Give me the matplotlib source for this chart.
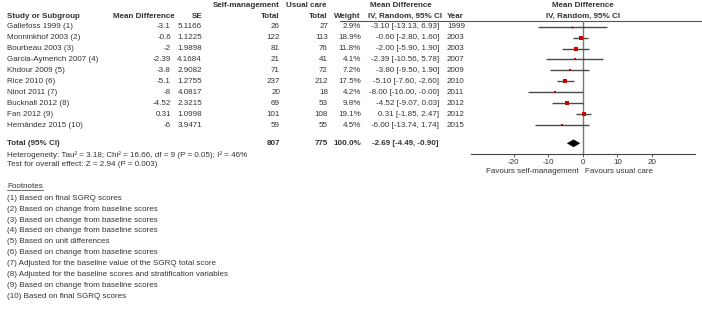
"""Forest plot: self-management vs usual care (SGRQ total score)."""

import matplotlib.pyplot as plt
import numpy as np
from matplotlib.patches import Polygon

plt.rcParams["font.family"] = ["Liberation Sans", "DejaVu Sans"]

# ── Data ──────────────────────────────────────────────────────────────────────
studies = [
    "Gallefoss 1999 (1)", "Monninkhof 2003 (2)", "Bourbeau 2003 (3)",
    "Garcia-Aymerich 2007 (4)", "Khdour 2009 (5)", "Rice 2010 (6)",
    "Ninot 2011 (7)", "Bucknall 2012 (8)", "Fan 2012 (9)", "Hernández 2015 (10)",
]
mean_diff = [-3.1, -0.6, -2, -2.39, -3.8, -5.1, -8, -4.52, 0.31, -6]
se = [5.1166, 1.1225, 1.9898, 4.1684, 2.9082, 1.2755, 4.0817, 2.3215, 1.0998, 3.9471]
n_self = [26, 122, 81, 21, 71, 237, 20, 69, 101, 59]
n_usual = [27, 113, 76, 41, 72, 212, 18, 53, 108, 55]
weight = [2.9, 18.9, 11.8, 4.1, 7.2, 17.5, 4.2, 9.8, 19.1, 4.5]
ci_low = [-13.13, -2.80, -5.90, -10.56, -9.50, -7.60, -16.00, -9.07, -1.85, -13.74]
ci_high = [6.93, 1.60, 1.90, 5.78, 1.90, -2.60, -0.00, 0.03, 2.47, 1.74]
years = [1999, 2003, 2003, 2007, 2009, 2010, 2011, 2012, 2012, 2015]

total_self, total_usual, total_weight = 807, 775, 100.0
total_md, total_low, total_high = -2.69, -4.49, -0.90

heterogeneity = "Heterogeneity: Tau² = 3.18; Chi² = 16.66, df = 9 (P = 0.05); I² = 46%"
overall_test = "Test for overall effect: Z = 2.94 (P = 0.003)"
xticks = [-20, -10, 0, 10, 20]
footnotes = [
    "(1) Based on final SGRQ scores",
    "(2) Based on change from baseline scores",
    "(3) Based on change from baseline scores",
    "(4) Based on change from baseline scores",
    "(5) Based on unit differences",
    "(6) Based on change from baseline scores",
    "(7) Adjusted for the baseline value of the SGRQ total score",
    "(8) Adjusted for the baseline scores and stratification variables",
    "(9) Based on change from baseline scores",
    "(10) Based on final SGRQ scores",
]

# ── Layout (pixels) ───────────────────────────────────────────────────────────
W, H = 702, 309
FS = 5.8
TXT = "#333333"
ROW0, ROWH = 26.7, 10.93
Y_TOTAL, Y_HET, Y_TEST = 143.3, 155.0, 164.0
Y_FOOT, FOOT_H = 186.0, 10.86
PLOT_L, PLOT_R, PLOT_T, PLOT_B = 470.7, 695.0, 21.0, 154.0
XLIM = (-32.5, 32.5)

fig = plt.figure(figsize=(W / 100, H / 100), dpi=100)
tax = fig.add_axes([0, 0, 1, 1])
tax.set_xlim(0, W)
tax.set_ylim(H, 0)
tax.axis("off")


def put(x, y, s, ha="left", bold=False, color=TXT):
    return tax.text(x, y, s, ha=ha, va="center", fontsize=FS, color=color,
                    fontweight="bold" if bold else "normal")


# headers
put(280, 5.5, "Self-management", ha="right", bold=True)
put(326, 5.5, "Usual care", ha="right", bold=True)
put(401, 5.5, "Mean Difference", ha="center", bold=True)
put(582.7, 5.5, "Mean Difference", ha="center", bold=True)
for x, s, ha in [(7, "Study or Subgroup", "left"), (175, "Mean Difference", "right"),
                 (202, "SE", "right"), (280, "Total", "right"), (328, "Total", "right"),
                 (361, "Weight", "right"), (368, "IV, Random, 95% CI", "left"),
                 (447, "Year", "left"), (582.7, "IV, Random, 95% CI", "center")]:
    put(x, 16, s, ha=ha, bold=True)
tax.plot([340, W], [21, 21], color="#555555", lw=0.8)

# study rows
for i, name in enumerate(studies):
    y = ROW0 + i * ROWH
    put(7, y, name)
    put(171, y, f"{mean_diff[i]:g}", ha="right")
    put(202, y, f"{se[i]:.4f}", ha="right")
    put(280, y, f"{n_self[i]}", ha="right")
    put(328, y, f"{n_usual[i]}", ha="right")
    put(361, y, f"{weight[i]:.1f}%", ha="right")
    put(439, y, f"{mean_diff[i]:.2f} [{ci_low[i]:.2f}, {ci_high[i]:.2f}]", ha="right")
    put(447, y, f"{years[i]}")

# total row
put(7, Y_TOTAL, "Total (95% CI)", bold=True)
put(280, Y_TOTAL, f"{total_self}", ha="right", bold=True)
put(328, Y_TOTAL, f"{total_usual}", ha="right", bold=True)
put(361, Y_TOTAL, f"{total_weight:.1f}%", ha="right", bold=True)
put(439, Y_TOTAL, f"{total_md:.2f} [{total_low:.2f}, {total_high:.2f}]", ha="right", bold=True)
put(7, Y_HET, heterogeneity)
put(7, Y_TEST, overall_test)

# favours labels
put(579, 171.7, "Favours self-management", ha="right")
put(585, 171.7, "Favours usual care")

# footnotes
ft = put(7, Y_FOOT, "Footnotes")
for i, s in enumerate(footnotes):
    put(7, Y_FOOT + (i + 1) * FOOT_H + 1.5, s)
fig.canvas.draw()
bb = ft.get_window_extent()
tax.plot([7, 7 + bb.width], [Y_FOOT + 4.2, Y_FOOT + 4.2], color=TXT, lw=0.5)

# ── Forest panel ──────────────────────────────────────────────────────────────
fax = fig.add_axes([PLOT_L / W, (H - PLOT_B) / H, (PLOT_R - PLOT_L) / W, (PLOT_B - PLOT_T) / H])
fax.patch.set_alpha(0)
top_row = (PLOT_T - ROW0) / ROWH
bot_row = (PLOT_B - ROW0) / ROWH
total_row = (Y_TOTAL - ROW0) / ROWH
fax.set_xlim(*XLIM)
fax.set_ylim(bot_row, top_row)
for s in ["top", "right", "left"]:
    fax.spines[s].set_visible(False)
fax.spines["bottom"].set_color("#444444")
fax.spines["bottom"].set_linewidth(0.8)
fax.set_yticks([])
fax.set_xticks(xticks)
fax.set_xticklabels([str(t) for t in xticks])
fax.tick_params(axis="x", direction="out", length=2.5, width=0.6, colors="#444444",
                labelsize=FS, labelcolor=TXT, pad=1.2)

fax.axvline(0, color="#777777", lw=1.0, zorder=1)
rows = np.arange(len(studies))
fax.hlines(rows, ci_low, ci_high, color="#4a4a4a", lw=1.0, zorder=2)
for r, m, w in zip(rows, mean_diff, weight):
    fax.plot(m, r, marker="s", color="#cc0000", markersize=0.78 * np.sqrt(w),
             markeredgewidth=0, zorder=3)

dh = 3.6 / ROWH
fax.add_patch(Polygon([(total_low, total_row), (total_md, total_row - dh),
                       (total_high, total_row), (total_md, total_row + dh)],
                      closed=True, facecolor="black", edgecolor="black", lw=0.3, zorder=3))

fig.savefig("out.png", dpi=100)
